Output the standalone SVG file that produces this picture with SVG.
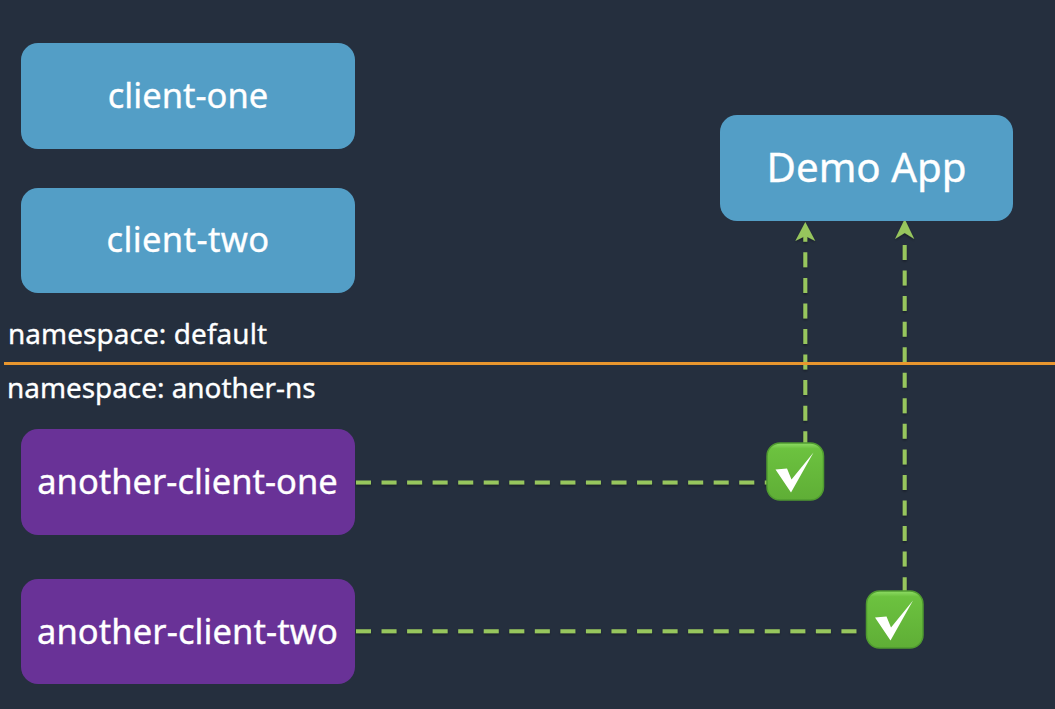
<svg xmlns="http://www.w3.org/2000/svg" width="1055" height="709" viewBox="0 0 1055 709">
<style>
text{font-family:"Noto Sans","Open Sans","Liberation Sans",sans-serif;fill:#fff;stroke:#fff;stroke-width:.35;}
.n{font-size:34.5px;text-anchor:middle;}
.ns{font-size:27.9px;}
.blue{fill:#539ec6;}
.purple{fill:#693297;}
.c{fill:none;stroke:#97c65d;stroke-width:4;stroke-dasharray:15 10.55;}
.h{fill:#97c65d;}
</style>
<defs>
<linearGradient id="g" x1="0" y1="0" x2="0" y2="1"><stop offset="0" stop-color="#8fdc66"/><stop offset="0.1" stop-color="#6cc23f"/><stop offset="1" stop-color="#5fae36"/></linearGradient>
<filter id="s" x="-5%" y="-5%" width="110%" height="110%"><feDropShadow dx="0" dy="1.500" stdDeviation="1" flood-color="#000" flood-opacity=".35"/></filter>
<g id="check">
<rect x="1" y="1" width="56.500" height="57" rx="13" fill="url(#g)" stroke="#4f9a30" stroke-width="1.500"/>
<polygon points="9.500,27.500 21,26.500 25.500,37.500 47.500,10.500 25,50.500" fill="#fff"/>
</g>
</defs>
<rect width="1055" height="709" fill="#252f3e"/>
<g id="connectors" filter="url(#s)">
<path class="c" d="M805.300 226.800V443"/>
<path class="h" d="M805.300 222L815.300 241L805.300 236L795.300 241Z"/>
<path class="c" d="M904.700 245V591"/>
<path class="h" d="M904.700 219L914.300 239L904.700 233L895 239Z"/>
<path class="c" d="M356 482.500H767"/>
<path class="c" d="M356 631.300H866"/>
</g>
<g id="client-one"><rect class="blue" x="21" y="43" width="334" height="106" rx="17"/><text class="n" x="188" y="108">client-one</text></g>
<g id="client-two"><rect class="blue" x="21" y="188" width="334" height="105" rx="17"/><text class="n" x="188" y="252" style="letter-spacing:.4px">client-two</text></g>
<g id="demo-app"><rect class="blue" x="720" y="115" width="293" height="106" rx="17"/><text class="n" x="866.500" y="182" style="font-size:40.3px">Demo App</text></g>
<g id="another-client-one"><rect class="purple" x="21" y="429" width="334" height="106" rx="17"/><text class="n" x="187.500" y="494">another-client-one</text></g>
<g id="another-client-two"><rect class="purple" x="21" y="579" width="334" height="105" rx="17"/><text class="n" x="187.500" y="644" style="letter-spacing:.1px">another-client-two</text></g>
<g id="divider"><line x1="4" y1="363.500" x2="1055" y2="363.500" stroke="#e8962e" stroke-width="3"/></g>
<g id="labels">
<text class="ns" x="8" y="344" style="letter-spacing:.1px">namespace: default</text>
<text class="ns" x="7" y="398">namespace: another-ns</text>
</g>
<use id="check-one" href="#check" x="766" y="442"/>
<use id="check-two" href="#check" x="865.500" y="590"/>
</svg>
